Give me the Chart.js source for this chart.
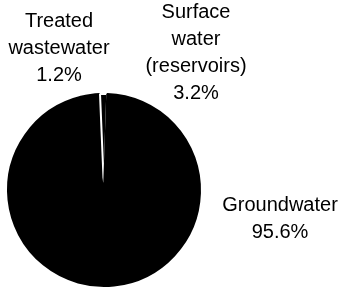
<!DOCTYPE html>
<html>
<head>
<meta charset="utf-8">
<script src="https://cdn.jsdelivr.net/npm/chart.js@4/dist/chart.umd.min.js"></script>
<style>
html,body{margin:0;padding:0;background:#fff;}
#wrap{width:344px;height:297px;position:relative;}
</style>
</head>
<body>
<div id="wrap"><canvas id="c" width="344" height="297"></canvas></div>
<script>
const categories = ["Surface water (reservoirs)", "Treated wastewater", "Groundwater"];
const shares = [3.2, 1.2, 95.6];
const labelLines = [
  ["Surface", "water", "(reservoirs)", "3.2%"],
  ["Treated", "wastewater", "1.2%"],
  ["Groundwater", "95.6%"]
];

const labelPlugin = {
  id: 'sliceLabels',
  afterDraw(chart, args, opts) {
    const ctx = chart.ctx;
    ctx.save();
    ctx.fillStyle = '#000';
    ctx.font = '20px "Liberation Sans", Arial, sans-serif';
    ctx.textAlign = 'center';
    ctx.textBaseline = 'middle';
    opts.anchors.forEach((a, i) => {
      labelLines[i].forEach((line, j) => {
        ctx.fillText(line, a.x, a.y + j * opts.lineHeight);
      });
    });
    ctx.restore();
  }
};

new Chart(document.getElementById('c'), {
  type: 'pie',
  data: {
    labels: categories,
    datasets: [{
      data: shares,
      backgroundColor: ['#000', '#000', '#000'],
      borderColor: ['#000', '#fff', '#000'],
      borderWidth: [2, 2, 2],
      borderAlign: 'center'
    }]
  },
  options: {
    responsive: false,
    animation: false,
    rotation: -13.9,
    layout: { padding: { left: 7, right: 143, top: 93, bottom: 10 } },
    plugins: {
      legend: { display: false },
      tooltip: { enabled: false },
      sliceLabels: {
        lineHeight: 27,
        anchors: [ {x: 196, y: 12}, {x: 59, y: 21}, {x: 280, y: 205} ]
      }
    }
  },
  plugins: [labelPlugin]
});
</script>
</body>
</html>
